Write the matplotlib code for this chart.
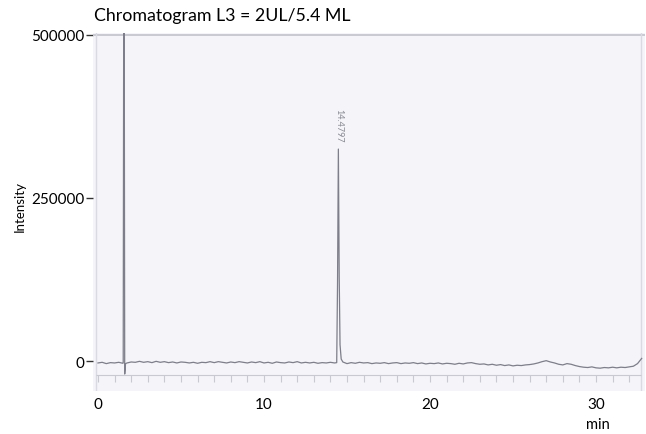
import matplotlib

matplotlib.use("Agg")
import matplotlib.pyplot as plt
import numpy as np

plt.rcParams["font.family"] = ["Lato", "DejaVu Sans"]

# baseline signal, one value every 0.25 min from 0 min (thousands of counts)
baseline_k = [
    -3, -2, -4, -2.5, -3, -2, -3.5, -3,
    -1.5, -2, -0.5, -2, -1, -2.5, -0.5, -2,
    -1, -2.5, -1.5, -3, -1.5, -2, -3, -2,
    -3.5, -2, -2.5, -1, -2.5, -1, -2, -3,
    -1.5, -2.5, -1, -2, -3, -1.5, -2.5, -1,
    -3, -2, -3.5, -1.5, -2.5, -3, -1.5, -2.5,
    -1, -3, -2, -3, -2, -3.5, -2.5, -3,
    -2, -3, -3, -3, -4, -2.5, -3.5, -2,
    -3, -2.5, -4, -3, -3.5, -2.5, -4, -3,
    -2.5, -4, -3, -3.5, -2.5, -4, -3, -4.5,
    -3.5, -4, -3, -4.5, -3.5, -4, -5, -3.5,
    -4.5, -3, -2.5, -4, -5, -4.5, -6, -5,
    -6.5, -5.5, -7, -6, -7.5, -6.5, -7, -6,
    -5.5, -4.5, -3, -1, 0.5, -1.5, -3, -5,
    -6, -4, -5, -7, -8.5, -9.5, -10, -9,
    -10.5, -11, -10, -10.5, -9.5, -10.5, -9.5, -10,
    -9, -8, -4, 4,
]
step_min = 0.25

# solvent front (off scale) and the main peak
solvent_t = [1.52, 1.55, 1.58, 1.61, 1.66]
solvent_k = [-3, 560, 560, -20, -4]
peak_t = [14.38, 14.43, 14.48, 14.53, 14.58, 14.65, 14.75]
peak_k = [-2.5, 120, 325, 130, 25, 3, -1.5]
peak_label = "14.4797"

title = "Chromatogram L3 = 2UL/5.4 ML"
y_ticks = [0, 250000, 500000]
x_ticks = [0, 10, 20, 30]
scan_ticks = list(range(0, 33))

bt = np.arange(len(baseline_k)) * step_min
keep = ~((bt > 14.3) & (bt < 14.8))
t = np.concatenate([bt[keep], solvent_t, peak_t])
y = np.concatenate([np.array(baseline_k)[keep], solvent_k, peak_k]) * 1000
order = np.argsort(t, kind="stable")
t, y = t[order], y[order]

fig = plt.figure(figsize=(6.46, 4.35), dpi=100)
ax = fig.add_axes([93 / 646, 1 - 392 / 435, 552 / 646, 358 / 435])
ax.set_facecolor("#f4f4f9")
for s in ax.spines.values():
    s.set_visible(False)

ax.set_xlim(-0.3, 32.95)
ax.set_ylim(-46000, 503000)

# frame of the scanned trace
frame_c = "#c9c9d2"
ax.axhline(500000, color=frame_c, lw=1.4)
ax.axvline(-0.12, color="#dadae2", lw=1)
ax.axvline(32.72, color="#dadae2", lw=1)
ax.hlines(-21500, -0.12, 32.72, color=frame_c, lw=0.8)
ax.vlines(scan_ticks, -32000, -21500, color=frame_c, lw=0.8)

ax.plot(t, y, color="#7e7e8a", lw=0.9)
ax.text(peak_t[2], 337000, peak_label, rotation=-90, ha="center", va="bottom",
        fontsize=6.5, color="#8a8a94")

ax.set_yticks(y_ticks)
ax.set_yticklabels([str(v) for v in y_ticks])
ax.set_xticks(x_ticks)
ax.set_xticklabels([str(v) for v in x_ticks])
ax.tick_params(axis="y", length=5, width=1, pad=1, labelsize=11, color="#333333")
ax.tick_params(axis="x", length=0, pad=4, labelsize=11)

fig.text(94 / 646, 1 - 21 / 435, title, ha="left", va="baseline", fontsize=12.8)
fig.text(20 / 646, 1 - 207 / 435, "Intensity", rotation=90, ha="center",
         va="center", fontsize=9.5)
fig.text(598 / 646, 1 - 425 / 435, "min", ha="center", va="center", fontsize=10.5)

fig.savefig("out.png", dpi=100)
